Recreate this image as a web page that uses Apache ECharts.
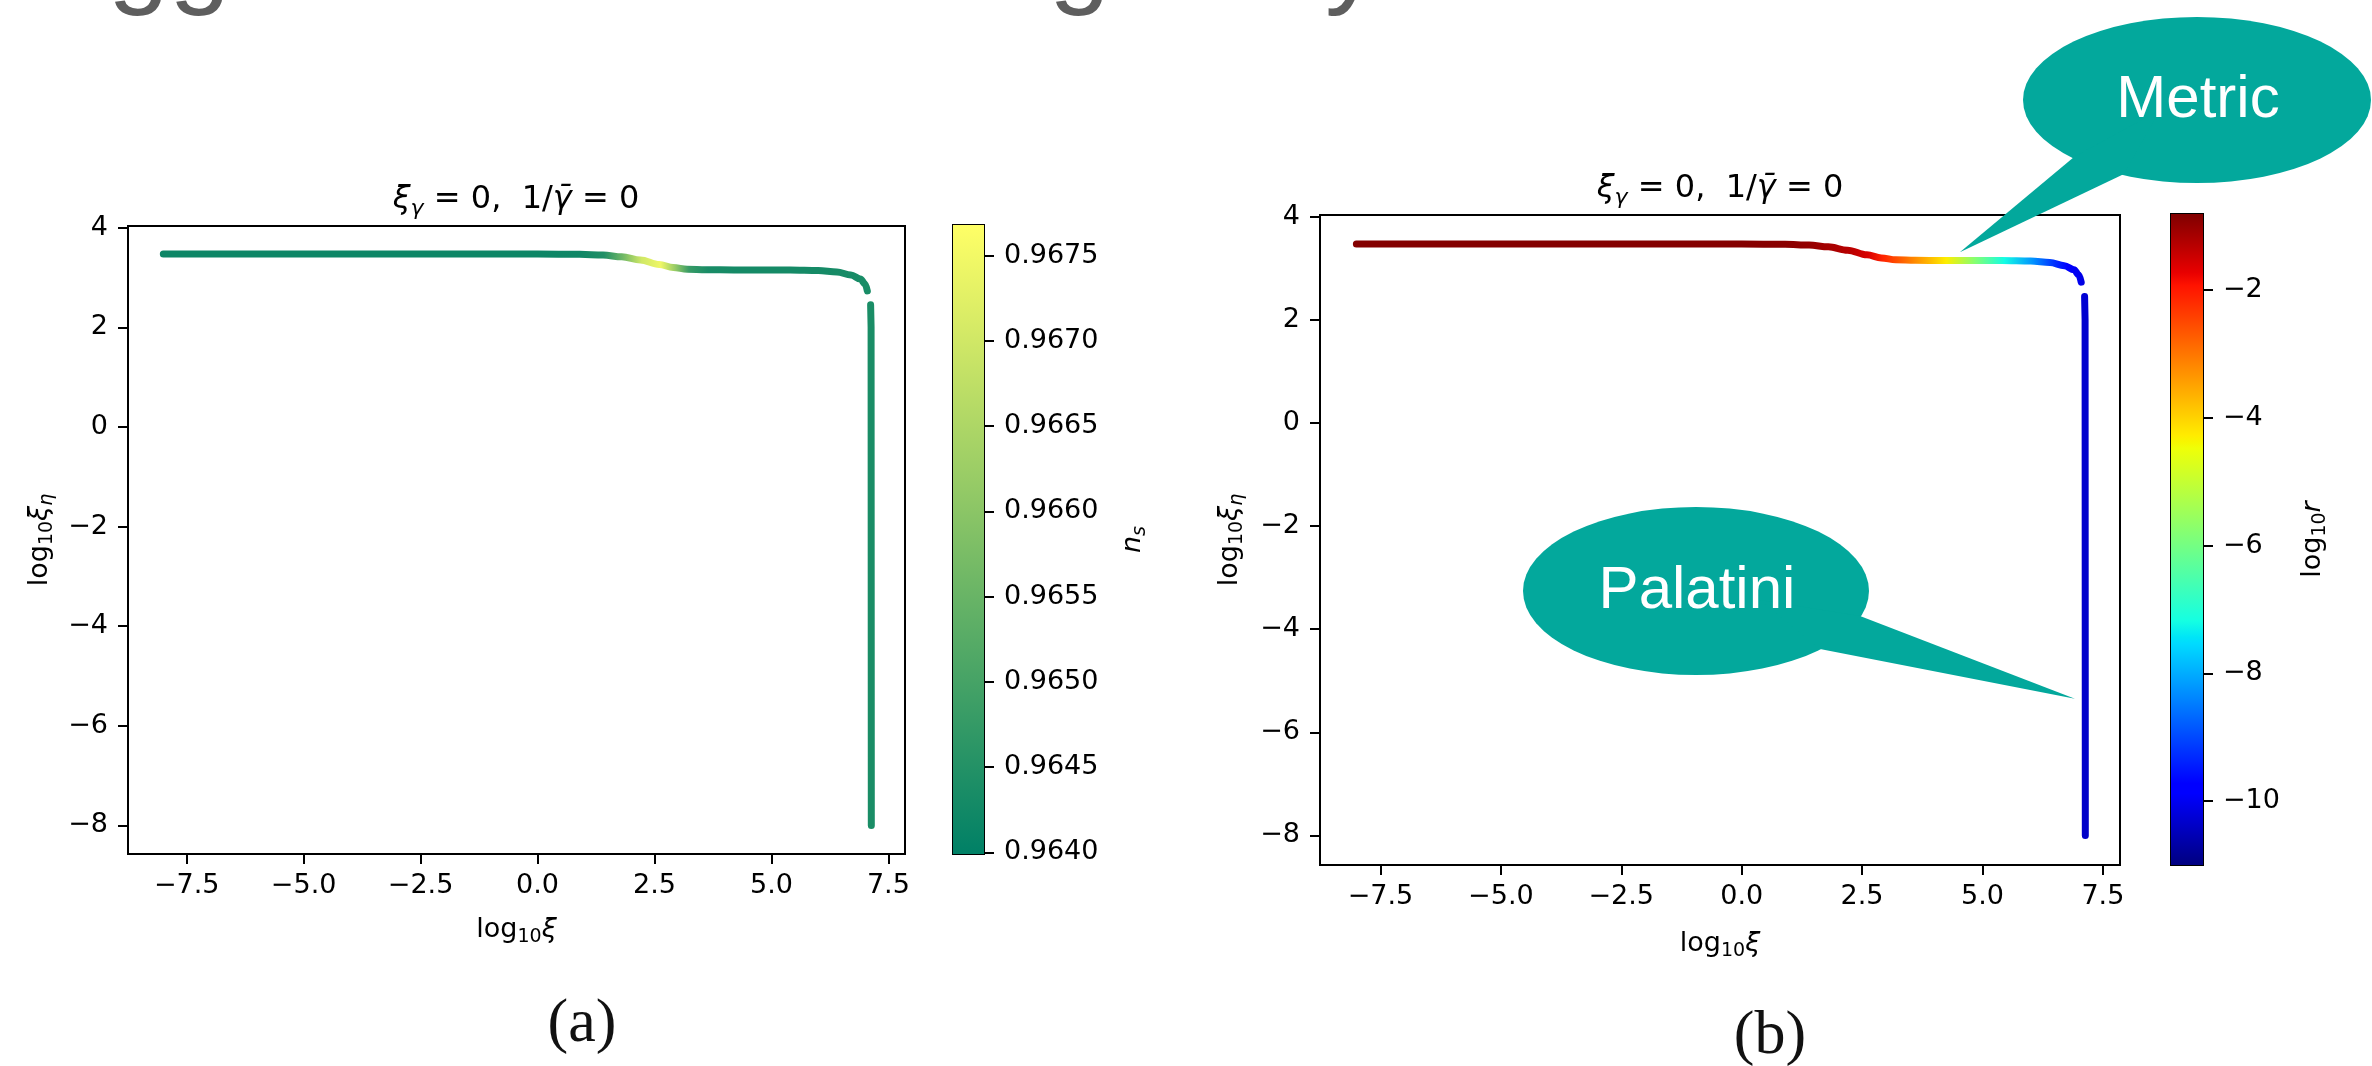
<!DOCTYPE html>
<html>
<head>
<meta charset="utf-8">
<script src="https://cdn.jsdelivr.net/npm/echarts@6/dist/echarts.min.js"></script>
<style>
  html, body { margin: 0; padding: 0; background: #fff; }
  #chart { width: 2372px; height: 1066px; }
</style>
</head>
<body>
<div id="chart"></div>
<script>
// Trajectory in the (log10 ξ, log10 ξη) plane. The upper branch runs left to right
// along the plateau; the lower branch is the near-vertical drop at log10 ξ ≈ 7.1.
const upperLogXi    = [-8.0, -4.0, 0.0, 0.9, 1.4, 1.8, 2.2, 2.6, 2.9, 3.2, 3.6, 4.2, 4.8, 5.4, 6.0, 6.4, 6.7, 6.9, 7.0, 7.05];
const upperLogXiEta = [3.47, 3.47, 3.47, 3.465, 3.45, 3.415, 3.35, 3.26, 3.20, 3.165, 3.155, 3.15, 3.15, 3.15, 3.14, 3.11, 3.05, 2.97, 2.87, 2.73];
const upperNs       = [0.96418, 0.96418, 0.96418, 0.96420, 0.96445, 0.96560, 0.96700, 0.96745, 0.96620, 0.96480, 0.96435, 0.96430, 0.96430, 0.96430, 0.96430, 0.96432, 0.96433, 0.96434, 0.96435, 0.96435];
const upperLogR     = [-0.85, -0.85, -0.86, -0.90, -1.00, -1.15, -1.30, -1.60, -2.10, -2.60, -3.30, -4.30, -5.80, -7.20, -8.30, -9.20, -9.80, -10.00, -10.10, -10.20];

const lowerLogXi    = [7.12, 7.13, 7.135];
const lowerLogXiEta = [2.45, 2.0, -8.0];
const lowerNs       = [0.96437, 0.96437, 0.96437];
const lowerLogR     = [-10.25, -10.30, -10.35];

// Axis ranges and tick values
const xRange = [-8.755, 7.855];
const yRange = [-8.573, 4.033];
const xTicks = [-7.5, -5.0, -2.5, 0.0, 2.5, 5.0, 7.5];
const yTicks = [-8, -6, -4, -2, 0, 2, 4];

// Colour scales
const nsRange   = [0.96399, 0.96768];
const nsTicks   = [0.9640, 0.9645, 0.9650, 0.9655, 0.9660, 0.9665, 0.9670, 0.9675];
const logRRange = [-11.0, -0.81];
const logRTicks = [-10, -8, -6, -4, -2];

// Annotation anchors (data coordinates in panel b)
const metricTip   = [4.53, 3.31];
const palatiniTip = [6.92, -5.35];

// ---------- colour maps ----------
const clamp01 = t => Math.max(0, Math.min(1, t));
const toRgb = c => 'rgb(' + c.map(v => Math.round(clamp01(v) * 255)).join(',') + ')';
function summer(t) { t = clamp01(t); return toRgb([t, 0.5 + 0.5 * t, 0.4]); }
const JET = {
  r: [[0, 0], [0.35, 0], [0.66, 1], [0.89, 1], [1, 0.5]],
  g: [[0, 0], [0.125, 0], [0.375, 1], [0.64, 1], [0.91, 0], [1, 0]],
  b: [[0, 0.5], [0.11, 1], [0.34, 1], [0.65, 0], [1, 0]]
};
function piece(pts, t) {
  for (let i = 1; i < pts.length; i++) {
    if (t <= pts[i][0]) {
      const [x0, y0] = pts[i - 1], [x1, y1] = pts[i];
      return y0 + (y1 - y0) * (t - x0) / (x1 - x0);
    }
  }
  return pts[pts.length - 1][1];
}
function jet(t) { t = clamp01(t); return toRgb([piece(JET.r, t), piece(JET.g, t), piece(JET.b, t)]); }
const SUMMER_STOPS = [0, 1];
const JET_STOPS = [0, 0.11, 0.125, 0.34, 0.35, 0.375, 0.64, 0.65, 0.66, 0.89, 0.91, 1];

// ---------- helpers ----------
const FONT = 'DejaVu Sans';
const minus = s => s.replace('-', '\u2212');
const RICH = {
  n:  { fontFamily: FONT, fontSize: 27, lineHeight: 34, color: '#000' },
  s:  { fontFamily: FONT, fontSize: 19, lineHeight: 16, verticalAlign: 'bottom', color: '#000' },
  i:  { fontFamily: FONT, fontStyle: 'italic', fontSize: 27, lineHeight: 34, color: '#000' },
  is: { fontFamily: FONT, fontStyle: 'italic', fontSize: 19, lineHeight: 16, verticalAlign: 'bottom', color: '#000' }
};
const TITLE_RICH = {
  n:  { fontFamily: FONT, fontSize: 32, lineHeight: 40, fill: '#000' },
  i:  { fontFamily: FONT, fontStyle: 'italic', fontSize: 32, lineHeight: 40, fill: '#000' },
  is: { fontFamily: FONT, fontStyle: 'italic', fontSize: 22, lineHeight: 18, verticalAlign: 'bottom', fill: '#000' }
};

function branchSeries(idx, xs, ys, vals, cmap, range, dir) {
  const norm = v => (v - range[0]) / (range[1] - range[0]);
  let grad;
  if (dir === 'x') {
    const a = xs[0], b = xs[xs.length - 1];
    grad = new echarts.graphic.LinearGradient(0, 0, 1, 0,
      xs.map((x, i) => ({ offset: (x - a) / (b - a), color: cmap(norm(vals[i])) })));
  } else {
    const a = ys[0], b = ys[ys.length - 1];
    grad = new echarts.graphic.LinearGradient(0, 0, 0, 1,
      ys.map((y, i) => ({ offset: (a - y) / (a - b), color: cmap(norm(vals[i])) })));
  }
  return {
    type: 'line', xAxisIndex: idx, yAxisIndex: idx,
    data: xs.map((x, i) => [x, ys[i]]),
    showSymbol: false, symbol: 'none', silent: true,
    smooth: dir === 'x' ? 0.35 : false, smoothMonotone: 'x',
    lineStyle: { width: 7, color: grad, cap: 'round', join: 'round' },
    z: 3
  };
}

function colorbarSeries(idx, range, cmap, stops) {
  const gradStops = stops.map(t => ({ offset: t, color: cmap(t) }));
  return {
    type: 'custom', xAxisIndex: idx, yAxisIndex: idx, silent: true,
    data: [[0, range[0], 1, range[1]]],
    encode: { x: [0, 2], y: [1, 3] },
    renderItem(params, api) {
      const p0 = api.coord([api.value(0), api.value(1)]);
      const p1 = api.coord([api.value(2), api.value(3)]);
      return {
        type: 'rect',
        shape: { x: p0[0], y: p1[1], width: p1[0] - p0[0], height: p0[1] - p1[1] },
        style: { fill: new echarts.graphic.LinearGradient(0, 1, 0, 0, gradStops) }
      };
    }
  };
}

const tickStyle = { show: true, inside: false, length: 10, lineStyle: { color: '#000', width: 2 } };
const lineStyleAxis = { show: true, onZero: false, lineStyle: { color: '#000', width: 2 } };
const labelBase = { color: '#000', fontFamily: FONT, fontSize: 27 };

function mainX(grid, nameGap) {
  return {
    type: 'value', gridIndex: grid, min: xRange[0], max: xRange[1],
    axisLine: lineStyleAxis,
    axisTick: Object.assign({ customValues: xTicks }, tickStyle),
    axisLabel: Object.assign({ customValues: xTicks, margin: 18,
      formatter: v => minus(Number(v).toFixed(1)) }, labelBase),
    splitLine: { show: false },
    name: '{n|log}{s|10}{i|ξ}', nameLocation: 'middle', nameGap: nameGap,
    nameTextStyle: { rich: RICH }
  };
}
function mainY(grid, nameGap) {
  return {
    type: 'value', gridIndex: grid, min: yRange[0], max: yRange[1], position: 'left',
    axisLine: lineStyleAxis,
    axisTick: Object.assign({ customValues: yTicks }, tickStyle),
    axisLabel: Object.assign({ customValues: yTicks, margin: 20,
      formatter: v => minus(String(Math.round(v))) }, labelBase),
    splitLine: { show: false },
    name: '{n|log}{s|10}{i|ξ}{is|η}', nameLocation: 'middle', nameGap: nameGap, nameRotate: 90,
    nameTextStyle: { rich: RICH }
  };
}
function cbX(grid) {
  return { type: 'value', gridIndex: grid, min: 0, max: 1, show: false };
}
function cbY(grid, range, ticks, fmt, name, nameGap) {
  return {
    type: 'value', gridIndex: grid, min: range[0], max: range[1], position: 'right',
    axisLine: lineStyleAxis,
    axisTick: Object.assign({ customValues: ticks }, tickStyle),
    axisLabel: Object.assign({ customValues: ticks, margin: 20, formatter: fmt }, labelBase),
    splitLine: { show: false },
    name: name, nameLocation: 'middle', nameGap: nameGap, nameRotate: 90,
    nameTextStyle: { rich: RICH }
  };
}
const gridFrame = { show: true, borderColor: '#000', borderWidth: 2, backgroundColor: 'transparent' };

const option = {
  animation: false,
  backgroundColor: '#fff',
  textStyle: { fontFamily: FONT },
  grid: [
    Object.assign({ left: 128, top: 226, width: 777, height: 628 }, gridFrame),
    Object.assign({ left: 953, top: 225, width: 31, height: 629 }, gridFrame),
    Object.assign({ left: 1320, top: 215, width: 800, height: 650 }, gridFrame),
    Object.assign({ left: 2171, top: 214, width: 32, height: 651 }, gridFrame)
  ],
  xAxis: [mainX(0, 59), cbX(1), mainX(2, 62), cbX(3)],
  yAxis: [
    mainY(0, 71),
    cbY(1, nsRange, nsTicks, v => Number(v).toFixed(4), '{i|n}{is|s}', 132),
    mainY(2, 73),
    cbY(3, logRRange, logRTicks, v => minus(String(Math.round(v))), '{n|log}{s|10}{i|r}', 93)
  ],
  series: [
    branchSeries(0, upperLogXi, upperLogXiEta, upperNs, summer, nsRange, 'x'),
    branchSeries(0, lowerLogXi, lowerLogXiEta, lowerNs, summer, nsRange, 'y'),
    colorbarSeries(1, nsRange, summer, SUMMER_STOPS),
    branchSeries(2, upperLogXi, upperLogXiEta, upperLogR, jet, logRRange, 'x'),
    branchSeries(2, lowerLogXi, lowerLogXiEta, lowerLogR, jet, logRRange, 'y'),
    colorbarSeries(3, logRRange, jet, JET_STOPS)
  ]
};

const chart = echarts.init(document.getElementById('chart'), null, { renderer: 'canvas', width: 2372, height: 1066 });
chart.setOption(option);

// ---------- titles, panel labels, heading fragment and call-outs ----------
const TEAL = '#03a89c';
const titleText = '{i|ξ}{is|γ}{n| = 0,  1/}{i|γ̄}{n| = 0}';
function title(x, y) {
  return { type: 'text', x: x, y: y, z: 60, style: {
    text: titleText, rich: TITLE_RICH, align: 'center', verticalAlign: 'middle',
    font: '32px "DejaVu Sans"', fill: '#000' } };
}
function panelLabel(text, x, y) {
  return { type: 'text', x: x, y: y, z: 60, style: {
    text: text, font: '62px "Liberation Serif"', fill: '#111', align: 'center', verticalAlign: 'middle' } };
}
function headingGlyph(text, x) {
  return { type: 'text', x: x, y: -37, z: 60, style: {
    text: text, font: '110px "Liberation Sans"', fill: '#5e5e5e', align: 'left', verticalAlign: 'middle' } };
}
function bubble(cx, cy, rx, ry, base1, tip, base2, inner, label) {
  return [
    { type: 'circle', x: cx, y: cy, scaleX: rx / ry, z: 80, shape: { cx: 0, cy: 0, r: ry }, style: { fill: TEAL } },
    { type: 'polygon', z: 80, shape: { points: [base1, tip, base2, inner] }, style: { fill: TEAL } },
    { type: 'text', x: cx + 1, y: cy, z: 90, style: {
      text: label, font: '60px "Liberation Sans"', fill: '#fff', align: 'center', verticalAlign: 'middle' } }
  ];
}

const metricPx = chart.convertToPixel({ gridIndex: 2 }, metricTip);
const palatiniPx = chart.convertToPixel({ gridIndex: 2 }, palatiniTip);

chart.setOption({
  graphic: [
    title(516, 200),
    title(1720, 189),
    panelLabel('(a)', 582, 1025),
    panelLabel('(b)', 1770, 1037),
    headingGlyph('gg', 108),
    headingGlyph('g', 1049),
    headingGlyph('y', 1325)
  ].concat(
    bubble(2197, 100, 174, 83, [2074, 157], metricPx, [2124, 174], [2160, 110], 'Metric'),
    bubble(1696, 591, 173, 84, [1860, 616], palatiniPx, [1820, 649], [1760, 600], 'Palatini')
  )
});
</script>
</body>
</html>
